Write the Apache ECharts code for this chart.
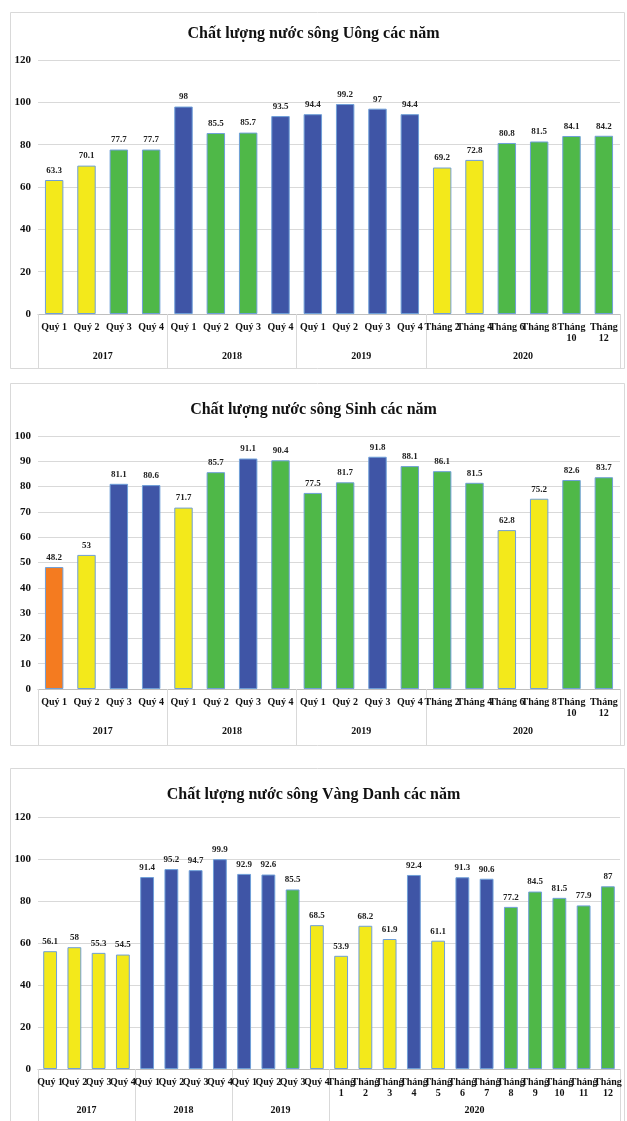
<!DOCTYPE html>
<html>
<head>
<meta charset="utf-8">
<script src="https://cdn.jsdelivr.net/npm/echarts@6/dist/echarts.min.js"></script>
<style>
  html, body { margin: 0; padding: 0; background: #ffffff; }
  #chart { width: 627px; height: 1121px; }
</style>
</head>
<body>
<div id="chart"></div>
<script>
// ---- Sông Uông ----
const uongTitle = 'Chất lượng nước sông Uông các năm';
const uongCategories = ['Quý 1', 'Quý 2', 'Quý 3', 'Quý 4',
  'Quý 1', 'Quý 2', 'Quý 3', 'Quý 4',
  'Quý 1', 'Quý 2', 'Quý 3', 'Quý 4',
  'Tháng 2', 'Tháng 4', 'Tháng 6', 'Tháng 8', 'Tháng 10', 'Tháng 12'];
const uongValues = [63.3, 70.1, 77.7, 77.7, 98, 85.5, 85.7, 93.5, 94.4, 99.2, 97, 94.4,
  69.2, 72.8, 80.8, 81.5, 84.1, 84.2];
const uongClasses = ['Y', 'Y', 'G', 'G', 'B', 'G', 'G', 'B', 'B', 'B', 'B', 'B',
  'Y', 'Y', 'G', 'G', 'G', 'G'];
const uongYears = ['2017', '2018', '2019', '2020'];
const uongYearSizes = [4, 4, 4, 6];
const uongTicks = [0, 20, 40, 60, 80, 100, 120];

// ---- Sông Sinh ----
const sinhTitle = 'Chất lượng nước sông Sinh các năm';
const sinhCategories = ['Quý 1', 'Quý 2', 'Quý 3', 'Quý 4',
  'Quý 1', 'Quý 2', 'Quý 3', 'Quý 4',
  'Quý 1', 'Quý 2', 'Quý 3', 'Quý 4',
  'Tháng 2', 'Tháng 4', 'Tháng 6', 'Tháng 8', 'Tháng 10', 'Tháng 12'];
const sinhValues = [48.2, 53, 81.1, 80.6, 71.7, 85.7, 91.1, 90.4, 77.5, 81.7, 91.8, 88.1,
  86.1, 81.5, 62.8, 75.2, 82.6, 83.7];
const sinhClasses = ['O', 'Y', 'B', 'B', 'Y', 'G', 'B', 'G', 'G', 'G', 'B', 'G',
  'G', 'G', 'Y', 'Y', 'G', 'G'];
const sinhYears = ['2017', '2018', '2019', '2020'];
const sinhYearSizes = [4, 4, 4, 6];
const sinhTicks = [0, 10, 20, 30, 40, 50, 60, 70, 80, 90, 100];

// ---- Sông Vàng Danh ----
const vdTitle = 'Chất lượng nước sông Vàng Danh các năm';
const vdCategories = ['Quý 1', 'Quý 2', 'Quý 3', 'Quý 4',
  'Quý 1', 'Quý 2', 'Quý 3', 'Quý 4',
  'Quý 1', 'Quý 2', 'Quý 3', 'Quý 4',
  'Tháng 1', 'Tháng 2', 'Tháng 3', 'Tháng 4', 'Tháng 5', 'Tháng 6',
  'Tháng 7', 'Tháng 8', 'Tháng 9', 'Tháng 10', 'Tháng 11', 'Tháng 12'];
const vdValues = [56.1, 58, 55.3, 54.5, 91.4, 95.2, 94.7, 99.9, 92.9, 92.6, 85.5, 68.5,
  53.9, 68.2, 61.9, 92.4, 61.1, 91.3, 90.6, 77.2, 84.5, 81.5, 77.9, 87];
const vdClasses = ['Y', 'Y', 'Y', 'Y', 'B', 'B', 'B', 'B', 'B', 'B', 'G', 'Y',
  'Y', 'Y', 'Y', 'B', 'Y', 'B', 'B', 'G', 'G', 'G', 'G', 'G'];
const vdYears = ['2017', '2018', '2019', '2020'];
const vdYearSizes = [4, 4, 4, 12];
const vdTicks = [0, 20, 40, 60, 80, 100, 120];

// Fill colours for the quality classes
const classColor = { B: '#3f55a6', G: '#4fb848', Y: '#f3e91b', O: '#f47b20' };

const SERIF = '"Liberation Serif", "DejaVu Serif", serif';
const GRID_LINE = '#d9d9d9';
const AXIS_LINE = '#bfbfbf';

// Layout of the three stacked panels
const panels = [
  { title: uongTitle, cats: uongCategories, vals: uongValues, cls: uongClasses,
    years: uongYears, sizes: uongYearSizes, ticks: uongTicks, wrapAll: false,
    box: { y: 12, h: 356 }, titleTop: 21, gridTop: 60, gridH: 254, yearMargin: 37 },
  { title: sinhTitle, cats: sinhCategories, vals: sinhValues, cls: sinhClasses,
    years: sinhYears, sizes: sinhYearSizes, ticks: sinhTicks, wrapAll: false,
    box: { y: 383, h: 362 }, titleTop: 397, gridTop: 436, gridH: 253, yearMargin: 37 },
  { title: vdTitle, cats: vdCategories, vals: vdValues, cls: vdClasses,
    years: vdYears, sizes: vdYearSizes, ticks: vdTicks, wrapAll: true,
    box: { y: 768, h: 360 }, titleTop: 782, gridTop: 817, gridH: 252, yearMargin: 36 }
];

// Month labels go on two lines when they do not fit their slot
function periodLabel(v, wrapAll) {
  if (v.indexOf('Tháng') === 0 && (wrapAll || v.length > 7)) return v.replace(' ', '\n');
  return v;
}

const option = {
  backgroundColor: '#ffffff',
  animation: false,
  title: [], grid: [], xAxis: [], yAxis: [], series: [], graphic: []
};

panels.forEach((p, i) => {
  const n = p.cats.length;
  const bounds = [0];
  p.sizes.forEach(s => bounds.push(bounds[bounds.length - 1] + s));
  const centers = p.sizes.map((s, k) => bounds[k] + s / 2);
  const yMax = p.ticks[p.ticks.length - 1];
  const yStep = p.ticks[1] - p.ticks[0];

  option.graphic.push({
    type: 'rect', silent: true, z: -10,
    shape: { x: 10.5, y: p.box.y + 0.5, width: 614, height: p.box.h },
    style: { fill: '#ffffff', stroke: '#d9d9d9', lineWidth: 1 }
  });

  option.title.push({
    text: p.title, left: 'center', top: p.titleTop,
    textStyle: { fontFamily: SERIF, fontWeight: 'bold', fontSize: 16, color: '#111' }
  });

  option.grid.push({ left: 38, width: 582, top: p.gridTop, height: p.gridH });

  // Period axis (quarters / months)
  option.xAxis.push({
    type: 'category', gridIndex: i, data: p.cats, position: 'bottom',
    axisLine: { show: true, lineStyle: { color: AXIS_LINE, width: 1 } },
    axisTick: { show: false },
    axisLabel: {
      interval: 0, margin: 8, hideOverlap: false,
      fontFamily: SERIF, fontWeight: 'bold', fontSize: 10, color: '#111', lineHeight: 11,
      formatter: (v) => periodLabel(v, p.wrapAll)
    }
  });

  // Year grouping axis
  option.xAxis.push({
    type: 'value', gridIndex: i, min: 0, max: n, position: 'bottom',
    axisLine: { show: false },
    splitLine: { show: false },
    axisTick: {
      show: true, inside: false, length: p.box.y + p.box.h - (p.gridTop + p.gridH),
      customValues: bounds, lineStyle: { color: GRID_LINE, width: 1 }
    },
    axisLabel: {
      show: true, margin: p.yearMargin, customValues: centers,
      fontFamily: SERIF, fontWeight: 'bold', fontSize: 10, color: '#111',
      formatter: (v) => {
        const k = centers.findIndex(c => Math.abs(c - v) < 1e-6);
        return k >= 0 ? p.years[k] : '';
      }
    }
  });

  option.yAxis.push({
    type: 'value', gridIndex: i, min: 0, max: yMax, interval: yStep,
    axisLine: { show: false }, axisTick: { show: false },
    splitLine: { show: true, lineStyle: { color: GRID_LINE, width: 1 } },
    axisLabel: { margin: 7, fontFamily: SERIF, fontWeight: 'bold', fontSize: 11, color: '#111' }
  });

  option.series.push({
    type: 'bar', xAxisIndex: i * 2, yAxisIndex: i,
    barCategoryGap: '43%',
    data: p.vals.map((v, k) => ({
      value: v,
      itemStyle: { color: classColor[p.cls[k]] }
    })),
    itemStyle: { borderColor: '#6f9fd8', borderWidth: 1 },
    label: {
      show: true, position: 'top', distance: 5,
      fontFamily: SERIF, fontWeight: 'bold', fontSize: 9, color: '#222'
    }
  });
});

const chart = echarts.init(document.getElementById('chart'), null, { renderer: 'canvas' });
chart.setOption(option);
</script>
</body>
</html>
